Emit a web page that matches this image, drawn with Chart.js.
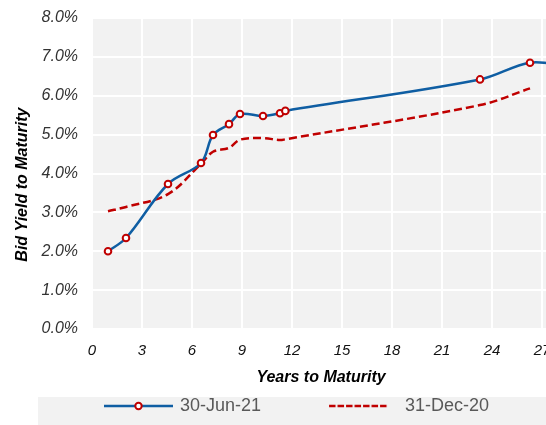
<!DOCTYPE html>
<html><head><meta charset="utf-8">
<style>html,body{margin:0;padding:0;overflow:hidden;background:#fff}</style>
<script src="https://cdn.jsdelivr.net/npm/chart.js@4.4.1/dist/chart.umd.min.js"></script>
</head><body>
<canvas id="c" width="600" height="425"></canvas>
<script>
// ---- data ----
const seriesNames = ['30-Jun-21', '31-Dec-20'];
const junYears  = [0.96, 2.04, 4.56, 6.54, 7.26, 8.22, 8.88, 10.26, 11.28, 11.60, 23.28, 26.28, 28.50];
const junYields = [2.00, 2.34, 3.73, 4.27, 4.99, 5.27, 5.53, 5.48, 5.55, 5.61, 6.42, 6.85, 6.76];
const decYears  = [0.96, 2.04, 4.56, 6.54, 7.26, 8.22, 8.88, 10.26, 11.28, 11.60, 23.28, 26.28];
const decYields = [3.03, 3.14, 3.47, 4.25, 4.56, 4.66, 4.87, 4.91, 4.86, 4.88, 5.76, 6.19];
const xTickLabels = ['0', '3', '6', '9', '12', '15', '18', '21', '24', '27'];
const yTickLabels = ['0.0%', '1.0%', '2.0%', '3.0%', '4.0%', '5.0%', '6.0%', '7.0%', '8.0%'];
const xAxisTitle = 'Years to Maturity';
const yAxisTitle = 'Bid Yield to Maturity';

const BLUE = '#0F5EA3', RED = '#C00000';

function makeIcon(kind) {
  const c = document.createElement('canvas');
  c.width = 74; c.height = 12;
  const g = c.getContext('2d');
  if (kind === 0) {
    g.strokeStyle = BLUE; g.lineWidth = 2.5;
    g.beginPath(); g.moveTo(5, 6); g.lineTo(74, 6); g.stroke();
    g.beginPath(); g.arc(39.5, 6, 3.2, 0, Math.PI * 2);
    g.fillStyle = '#fff'; g.fill(); g.strokeStyle = RED; g.lineWidth = 2; g.stroke();
  } else {
    g.strokeStyle = RED; g.lineWidth = 2.5; g.setLineDash([6.5, 2]);
    g.beginPath(); g.moveTo(5, 6); g.lineTo(64, 6); g.stroke();
  }
  return c;
}
const legendIcons = [makeIcon(0), makeIcon(1)];

const bgPlugin = {
  id: 'bg',
  beforeDraw(chart) {
    const {ctx, chartArea: a} = chart;
    ctx.save();
    ctx.fillStyle = '#F2F2F2';
    ctx.fillRect(a.left, a.top, a.right - a.left, a.bottom - a.top);
    ctx.fillRect(38, 397, chart.width - 38, chart.height - 397);
    ctx.restore();
  }
};

new Chart(document.getElementById('c'), {
  type: 'line',
  data: {
    datasets: [
      {
        label: seriesNames[0],
        data: junYears.map((x, i) => ({x, y: junYields[i]})),
        borderColor: BLUE, borderWidth: 2.5,
        pointRadius: 3.3, pointBorderWidth: 2, pointBorderColor: RED, pointBackgroundColor: '#fff',
        tension: 0.35, order: 1
      },
      {
        label: seriesNames[1],
        data: decYears.map((x, i) => ({x, y: decYields[i]})),
        borderColor: RED, borderWidth: 2.5, borderDash: [8, 4],
        pointRadius: 0, tension: 0.35, order: 2
      }
    ]
  },
  options: {
    responsive: false, animation: false,
    layout: {padding: {left: 0, top: 18, right: 10, bottom: 0}},
    plugins: {
      tooltip: {enabled: false},
      legend: {
        position: 'bottom',
        labels: {
          usePointStyle: true, pointStyleWidth: 70, padding: 5,
          font: {family: 'Liberation Sans, Arial, sans-serif', size: 18},
          color: '#595959',
          generateLabels: chart => chart.data.datasets.map((ds, i) => ({
            text: i === 0 ? ds.label + ' '.repeat(12) : ds.label,
            pointStyle: legendIcons[i], fillStyle: 'transparent', strokeStyle: 'transparent',
            lineWidth: 0, hidden: false, datasetIndex: i, fontColor: '#595959'
          }))
        }
      }
    },
    scales: {
      x: {
        type: 'linear', min: 0, max: 29.88,
        afterFit: s => { s.height = 63; },
        ticks: {
          stepSize: 3, includeBounds: false, padding: 13, maxRotation: 0,
          color: '#111', font: {family: 'Liberation Sans, Arial, sans-serif', size: 15, style: 'italic'},
          callback: v => xTickLabels[v / 3]
        },
        grid: {color: '#FFFFFF', lineWidth: 2, drawTicks: false},
        border: {display: false},
        title: {
          display: true, text: xAxisTitle + ' '.repeat(9), color: '#000',
          font: {family: 'Liberation Sans, Arial, sans-serif', size: 16, weight: 'bold', style: 'italic'},
          padding: {top: 0, bottom: 5}
        }
      },
      y: {
        min: 0, max: 8,
        afterFit: s => { s.width = 92; s.paddingTop = 9; s.paddingBottom = 9; },
        ticks: {
          stepSize: 1, padding: 14,
          color: '#333', font: {family: 'Liberation Sans, Arial, sans-serif', size: 16, style: 'italic'},
          callback: v => yTickLabels[v]
        },
        grid: {color: '#FFFFFF', lineWidth: 2, drawTicks: false},
        border: {display: false},
        title: {
          display: true, text: yAxisTitle + ' '.repeat(5), color: '#000',
          font: {family: 'Liberation Sans, Arial, sans-serif', size: 16, weight: 'bold', style: 'italic'},
          padding: {top: 13, bottom: 0}
        }
      }
    }
  },
  plugins: [bgPlugin]
});
</script>
</body></html>
